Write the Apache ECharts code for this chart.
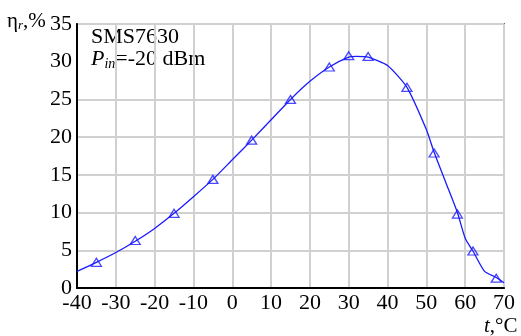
<!DOCTYPE html>
<html>
<head>
<meta charset="utf-8">
<script src="https://cdn.jsdelivr.net/npm/echarts@6/dist/echarts.min.js"></script>
<style>
  html, body { margin: 0; padding: 0; background: #fff; }
  #chart { width: 521px; height: 336px; }
</style>
</head>
<body>
<div id="chart"></div>
<script>
// measured points (triangles)
var markT = [-35, -25, -15, -5, 5, 15, 25, 30, 35, 45, 52, 58, 62, 68];
var markEta = [3.4, 6.3, 9.9, 14.4, 19.6, 25, 29.3, 30.8, 30.7, 26.6, 17.9, 9.8, 4.9, 1.3];

// fitted curve
var curveT = [-40, -35, -30, -25, -20, -15, -10, -5, 0, 5, 10, 15, 20, 25, 30, 32, 35, 40, 45, 50, 52, 55, 58, 60, 62, 65, 68, 70];
var curveEta = [2.2, 3.4, 4.7, 6.2, 7.9, 9.9, 12.1, 14.4, 17, 19.6, 22.3, 25, 27.4, 29.3, 30.6, 30.7, 30.6, 29.5, 26.6, 21, 18, 14, 10, 6.6, 4.9, 2.2, 1.4, 0.7];

function pairs(xs, ys) {
  return xs.map(function (x, i) { return [x, ys[i]]; });
}

var font = '"Liberation Serif", "Times New Roman", serif';
var gridGray = '#d0d0d0';
var chart = echarts.init(document.getElementById('chart'));

chart.setOption({
  animation: false,
  grid: {
    left: 77, right: 17, top: 24, bottom: 48,
    show: true,
    borderColor: '#666',
    borderWidth: 2
  },
  xAxis: {
    type: 'value',
    min: -40, max: 70, interval: 10,
    axisLine: { show: true, onZero: false, lineStyle: { color: '#000', width: 2 } },
    axisTick: { show: false },
    splitLine: { show: true, lineStyle: { color: gridGray, width: 2 } },
    axisLabel: { color: '#000', fontFamily: font, fontSize: 22, margin: 4 }
  },
  yAxis: {
    type: 'value',
    min: 0, max: 35, interval: 5,
    axisLine: { show: true, onZero: false, lineStyle: { color: '#000', width: 2 } },
    axisTick: { show: false },
    // the source has no horizontal line at 30
    splitLine: { show: true, lineStyle: { color: [gridGray, gridGray, gridGray, gridGray, gridGray, gridGray, 'rgba(0,0,0,0)', gridGray], width: 2 } },
    axisLabel: { color: '#000', fontFamily: font, fontSize: 22, margin: 5 }
  },
  series: [
    {
      type: 'line',
      data: pairs(curveT, curveEta),
      showSymbol: false,
      symbol: 'none',
      smooth: 0.2,
      lineStyle: { color: '#1a1aff', width: 1.3 },
      z: 3
    },
    {
      type: 'scatter',
      data: pairs(markT, markEta),
      symbol: 'triangle',
      symbolSize: [10, 8],
      itemStyle: { color: 'rgba(255,255,255,0)', borderColor: '#1a1aff', borderWidth: 1.3 },
      z: 4
    }
  ],
  graphic: [
    {
      type: 'text', left: 7, top: 11,
      style: {
        text: '{a|η}{s|r}{a|,%}',
        rich: {
          a: { fontFamily: font, fontSize: 21, fill: '#000' },
          s: { fontFamily: font, fontSize: 13, fontStyle: 'italic', fill: '#000', padding: [8, 0, 0, 0] }
        }
      }
    },
    {
      type: 'text', left: 91, top: 26,
      style: { text: 'SMS7630', fontFamily: font, fontSize: 22, fill: '#000' }
    },
    {
      type: 'text', left: 91, top: 48,
      style: {
        text: '{i|P}{s|in}{a|=-20 dBm}',
        rich: {
          i: { fontFamily: font, fontSize: 22, fontStyle: 'italic', fill: '#000' },
          s: { fontFamily: font, fontSize: 14, fontStyle: 'italic', fill: '#000', padding: [10, 0, 0, 0] },
          a: { fontFamily: font, fontSize: 22, fill: '#000' }
        }
      }
    },
    {
      type: 'text', left: 484, top: 316,
      style: {
        text: '{i|t}{a|,°C}',
        rich: {
          i: { fontFamily: font, fontSize: 21, fontStyle: 'italic', fill: '#000' },
          a: { fontFamily: font, fontSize: 21, fill: '#000' }
        }
      }
    }
  ]
});
</script>
</body>
</html>
